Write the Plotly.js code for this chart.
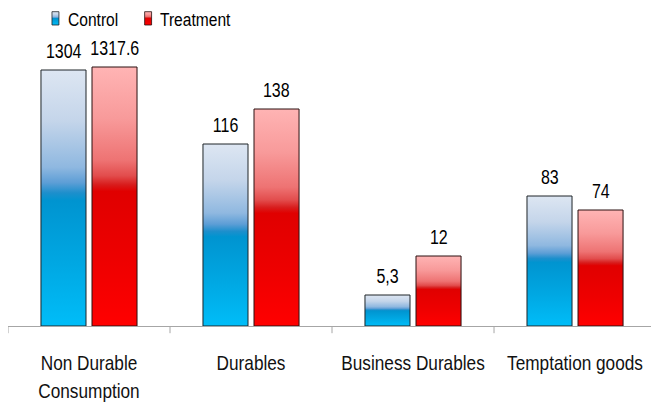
<!DOCTYPE html>
<html>
<head>
<meta charset="utf-8">
<script src="https://cdn.plot.ly/plotly-3.0.1.min.js"></script>
<style>
  html, body { margin: 0; padding: 0; background: #ffffff; }
  #chart { width: 651px; height: 402px; }
</style>
</head>
<body>
<div id="chart"></div>
<script>
// ---- data ----
var categories = ["Non Durable<br>Consumption", "Durables", "Business Durables", "Temptation goods"];
var seriesNames = ["Control", "Treatment"];
// values printed above the bars
var controlLabels = ["1304", "116", "5,3", "83"];
var treatmentLabels = ["1317.6", "138", "12", "74"];
// bar heights as drawn in the picture (chart has no value axis; heights are not to scale)
var controlHeights = [256, 182, 31, 130];
var treatmentHeights = [259, 217, 70, 116];

var FONT = "'Liberation Sans', Arial, sans-serif";
var NARROW = 0.82; // emulate Arial Narrow by horizontal compression

var traces = [
  {
    type: "bar", name: seriesNames[0], x: [0, 1, 2, 3], y: controlHeights,
    marker: { color: "#0099d6", line: { color: "#1e2428", width: 1 } },
    hoverinfo: "skip", showlegend: false
  },
  {
    type: "bar", name: seriesNames[1], x: [0, 1, 2, 3], y: treatmentHeights,
    marker: { color: "#e60000", line: { color: "#2a1010", width: 1 } },
    hoverinfo: "skip", showlegend: false
  }
];

var annotations = [];
function addLabels(heights, labels, shift) {
  for (var i = 0; i < heights.length; i++) {
    annotations.push({
      x: i, y: heights[i], xref: "x", yref: "y", text: labels[i],
      showarrow: false, xshift: shift, yshift: 6, yanchor: "bottom", xanchor: "center",
      font: { family: FONT, size: 19.5, color: "#000000" }
    });
  }
}
addLabels(controlHeights, controlLabels, -25.5);
addLabels(treatmentHeights, treatmentLabels, 25.5);

// legend (manual, so the symbol/text spacing matches)
annotations.push({ x: 0.0895, y: 1.022, xref: "paper", yref: "paper", text: seriesNames[0], showarrow: false,
  xanchor: "left", align: "left", yanchor: "middle", font: { family: FONT, size: 19, color: "#000000" } });
annotations.push({ x: 0.2335, y: 1.022, xref: "paper", yref: "paper", text: seriesNames[1], showarrow: false,
  xanchor: "left", align: "left", yanchor: "middle", font: { family: FONT, size: 19, color: "#000000" } });

var shapes = [
  { type: "rect", xref: "paper", yref: "paper", x0: 0.0684, x1: 0.0792, y0: 1.0033, y1: 1.0477,
    fillcolor: "#0099d6", line: { color: "#1e2428", width: 0.8 } },
  { type: "rect", xref: "paper", yref: "paper", x0: 0.2125, x1: 0.2233, y0: 1.0033, y1: 1.0477,
    fillcolor: "#e60000", line: { color: "#2a1010", width: 0.8 } }
];

var layout = {
  width: 651, height: 402,
  margin: { l: 8, r: 0, t: 26, b: 76, pad: 0 },
  paper_bgcolor: "#ffffff", plot_bgcolor: "#ffffff",
  barmode: "group", bargap: 0.37, bargroupgap: 0.1176,
  showlegend: false,
  font: { family: FONT, size: 20, color: "#000000" },
  xaxis: {
    type: "linear",
    range: [-0.5, 3.469],
    tickmode: "array",
    tickvals: [0, 1, 2, 3],
    ticktext: categories,
    tickangle: 0,
    ticks: "", showgrid: false, zeroline: false,
    showline: true, linecolor: "#a6a6a6", linewidth: 1,
    ticklabelstandoff: 18,
    ticklabeloverflow: "allow",
    tickfont: { family: FONT, size: 21, color: "#111111" },
    fixedrange: true
  },
  yaxis: { range: [0, 300], visible: false, fixedrange: true },
  annotations: annotations,
  shapes: shapes.concat([0, 1, 2, 3].map(function (b) {
    return { type: "line", xref: "x", yref: "paper", x0: b - 0.5, x1: b - 0.5,
      y0: 0, y1: -0.024, line: { color: "#a6a6a6", width: 1 } };
  }))
};

Plotly.newPlot("chart", traces, layout, { staticPlot: true, displayModeBar: false }).then(function (gd) {
  var svg = gd.querySelector(".main-svg");
  var ns = "http://www.w3.org/2000/svg";
  var defs = svg.querySelector("defs") || svg.insertBefore(document.createElementNS(ns, "defs"), svg.firstChild);
  function grad(id, stops) {
    var g = document.createElementNS(ns, "linearGradient");
    g.setAttribute("id", id);
    g.setAttribute("x1", "0"); g.setAttribute("y1", "0");
    g.setAttribute("x2", "0"); g.setAttribute("y2", "1");
    stops.forEach(function (s) {
      var st = document.createElementNS(ns, "stop");
      st.setAttribute("offset", s[0]);
      st.setAttribute("stop-color", s[1]);
      g.appendChild(st);
    });
    defs.appendChild(g);
  }
  grad("gradC", [[0, "#dde6f2"], [0.2, "#c4d5ea"], [0.38, "#8fb8e0"], [0.44, "#5d9ed6"], [0.48, "#1d8fcc"],
                 [0.51, "#0094d0"], [0.75, "#00a7e2"], [1, "#00bdf8"]]);
  grad("gradT", [[0, "#ffb4b4"], [0.2, "#f89a9a"], [0.36, "#ee7373"], [0.42, "#e24c4c"], [0.455, "#d81c1c"],
                 [0.48, "#e00000"], [0.75, "#ee0000"], [1, "#ff0000"]]);
  var tr = gd.querySelectorAll(".barlayer .trace");
  if (tr[0]) tr[0].querySelectorAll("path").forEach(function (p) { p.style.fill = "url(#gradC)"; });
  if (tr[1]) tr[1].querySelectorAll("path").forEach(function (p) { p.style.fill = "url(#gradT)"; });
  var sp = gd.querySelectorAll(".shapelayer path");
  if (sp[0]) sp[0].style.fill = "url(#gradC)";
  if (sp[1]) sp[1].style.fill = "url(#gradT)";

  // condense text horizontally around each text's anchor x
  function squeeze(t) {
    var x = parseFloat(t.getAttribute("x")) || 0;
    var trf = t.getAttribute("transform") || "";
    t.setAttribute("transform", trf + " matrix(" + NARROW + ",0,0,1," + (x * (1 - NARROW)) + ",0)");
  }
  gd.querySelectorAll(".xtick text, .annotation-text").forEach(squeeze);
  // wider line spacing for the two-line tick label
  gd.querySelectorAll(".xtick text tspan.line").forEach(function (ts, i) {
    if (ts.getAttribute("dy") && ts.getAttribute("dy") !== "0em") ts.setAttribute("dy", "1.33em");
  });
});
</script>
</body>
</html>
